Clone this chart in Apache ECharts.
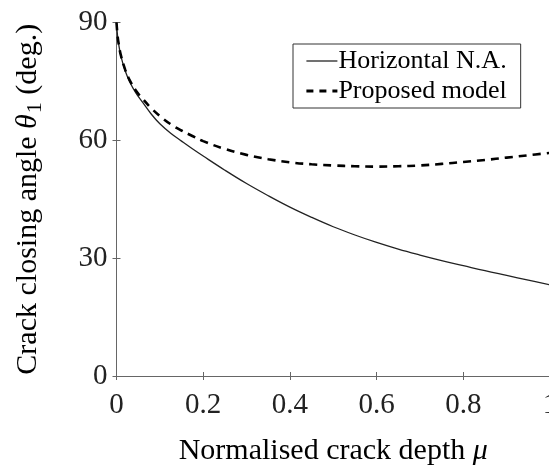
<!DOCTYPE html>
<html>
<head>
<meta charset="utf-8">
<script src="https://cdn.jsdelivr.net/npm/echarts@6/dist/echarts.min.js"></script>
<style>
  html, body { margin: 0; padding: 0; background: #fff; }
  #chart { width: 549px; height: 468px; }
</style>
</head>
<body>
<div id="chart"></div>
<script>
// Normalised crack depth (mu)
const mu = [0, 0.0025, 0.005, 0.01, 0.02, 0.03, 0.045, 0.06, 0.08, 0.1,
            0.125, 0.15, 0.175, 0.2, 0.25, 0.3, 0.35, 0.4, 0.45, 0.5,
            0.55, 0.6, 0.65, 0.7, 0.75, 0.8, 0.85, 0.9, 0.95, 1.0];

// Crack closing angle theta_1 (deg.), horizontal neutral axis assumption
const horizontalNA = [90, 86.5, 84.5, 81.5, 77.7, 75.0, 72.0, 69.7, 66.7, 64.2,
                      61.8, 59.8, 57.85, 56.0, 52.4, 49.0, 45.9, 43.0, 40.4, 38.0,
                      35.9, 34.0, 32.3, 30.8, 29.4, 28.1, 26.8, 25.6, 24.4, 23.2];

// Crack closing angle theta_1 (deg.), proposed model
const proposedModel = [90, 86.6, 84.6, 81.7, 78.0, 75.4, 72.6, 70.6, 68.2, 66.2,
                       64.1, 62.5, 61.1, 59.8, 57.8, 56.3, 55.2, 54.4, 53.9, 53.6,
                       53.4, 53.3, 53.4, 53.6, 54.0, 54.5, 55.0, 55.6, 56.2, 56.8];

const seriesNames = ['Horizontal N.A.', 'Proposed model'];
const xTicks = [0, 0.2, 0.4, 0.6, 0.8, 1];
const yTicks = [0, 30, 60, 90];

const FONT = '"Liberation Serif", "Times New Roman", serif';
const AXIS_COLOR = '#666';

const pairs = (xs, ys) => xs.map((x, i) => [x, ys[i]]);

const chart = echarts.init(document.getElementById('chart'), null, { renderer: 'canvas' });

const axisCommon = {
  type: 'value',
  axisLine: { show: true, lineStyle: { color: AXIS_COLOR, width: 1 } },
  axisTick: { show: true, inside: true, length: 4, lineStyle: { color: AXIS_COLOR } },
  splitLine: { show: false }
};

chart.setOption({
  backgroundColor: '#fff',
  animation: false,
  // plot box runs slightly past the right edge of the canvas
  grid: {
    left: 116.5, width: 433.5, top: 22.5, height: 353.5,
    containLabel: false, outerBoundsMode: 'none'
  },
  legend: {
    data: [
      { name: seriesNames[0], lineStyle: { color: '#111', width: 1.2, type: 'solid' } },
      { name: seriesNames[1], lineStyle: { color: '#000', width: 2.8, type: [7, 6] } }
    ],
    orient: 'vertical',
    left: 293,
    top: 44,
    backgroundColor: '#fff',
    borderColor: '#333',
    borderWidth: 1,
    borderRadius: 0,
    padding: [2, 14, 2, 12],
    itemGap: 0,
    itemWidth: 31,
    itemHeight: 14,
    itemStyle: { opacity: 0 },
    textStyle: { fontFamily: FONT, fontSize: 26, color: '#000', lineHeight: 30, padding: [0, 0, 0, -4] }
  },
  xAxis: [
    Object.assign({}, axisCommon, {
      min: 0, max: 1, interval: 0.2,
      position: 'bottom',
      name: 'Normalised crack depth {i|μ}',
      nameLocation: 'middle',
      nameGap: 60,
      nameTextStyle: {
        fontFamily: FONT, fontSize: 30, color: '#000',
        rich: { i: { fontFamily: FONT, fontSize: 30, fontStyle: 'italic', color: '#000' } }
      },
      axisLabel: {
        fontFamily: FONT, fontSize: 29, color: '#222', margin: 15,
        formatter: v => (xTicks.some(t => Math.abs(t - v) < 1e-9) ? String(+v.toFixed(1)) : '')
      }
    }),
    Object.assign({}, axisCommon, {
      min: 0, max: 1, interval: 0.2,
      position: 'top',
      axisLabel: { show: false }
    })
  ],
  yAxis: [
    Object.assign({}, axisCommon, {
      min: 0, max: 90, interval: 30,
      position: 'left',
      name: 'Crack closing angle {i|θ}{s|1} (deg.)',
      nameLocation: 'middle',
      nameGap: 70,
      nameTextStyle: {
        fontFamily: FONT, fontSize: 30, color: '#000',
        rich: {
          i: { fontFamily: FONT, fontSize: 30, fontStyle: 'italic', color: '#000' },
          s: { fontFamily: FONT, fontSize: 22, color: '#000', padding: [14, 0, 0, 1] }
        }
      },
      axisLabel: {
        fontFamily: FONT, fontSize: 29, color: '#222', margin: 9,
        formatter: v => (yTicks.includes(v) ? String(v) : '')
      }
    }),
    Object.assign({}, axisCommon, {
      min: 0, max: 90, interval: 30,
      position: 'right',
      axisLabel: { show: false }
    })
  ],
  series: [
    {
      name: seriesNames[0],
      type: 'line',
      data: pairs(mu, horizontalNA),
      showSymbol: false,
      symbol: 'none',
      smooth: 0.4,
      lineStyle: { color: '#222', width: 1.3, type: 'solid' },
      itemStyle: { color: '#222' },
      z: 3
    },
    {
      name: seriesNames[1],
      type: 'line',
      data: pairs(mu, proposedModel),
      showSymbol: false,
      symbol: 'none',
      smooth: 0.4,
      lineStyle: { color: '#000', width: 2.6, type: [8, 6] },
      itemStyle: { color: '#000' },
      z: 4
    }
  ]
});
</script>
</body>
</html>
